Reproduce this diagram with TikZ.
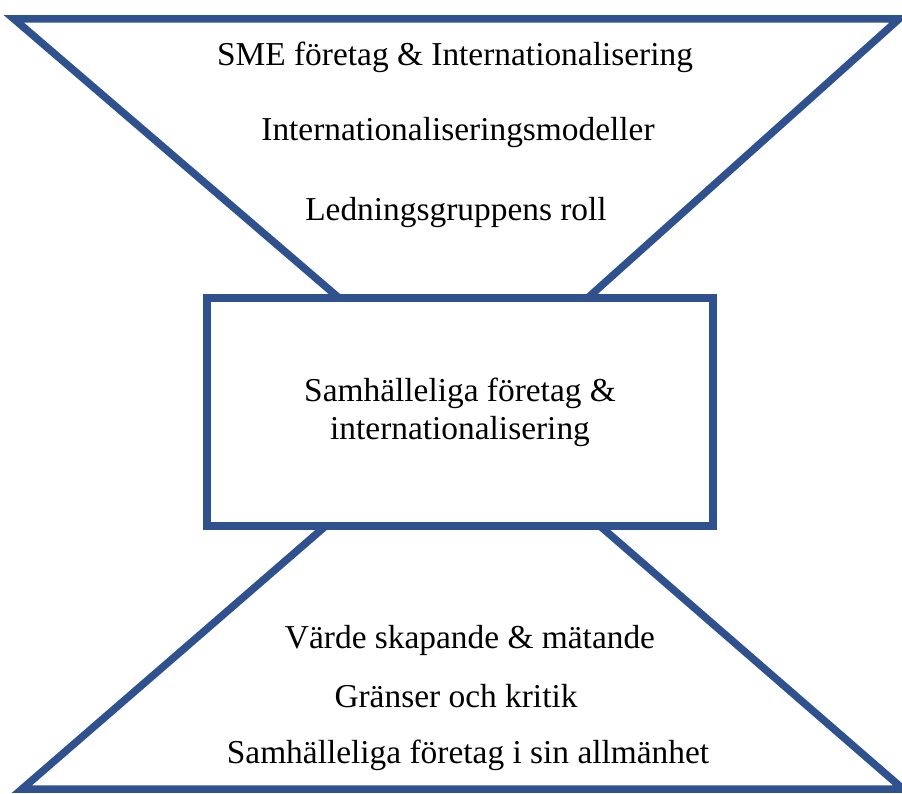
\documentclass[tikz,border=0pt]{standalone}
\usepackage{fontspec}
\setmainfont{Liberation Serif}
\definecolor{frameblue}{RGB}{47,82,143}
\tikzset{
	frame/.style={draw=frameblue, line width=7.5pt, line join=miter},
	topic/.style={anchor=base, font=\fontsize{33.4}{38}\selectfont},
}

\begin{document}
\begin{tikzpicture}[x=1pt, y=-1pt]
			\useasboundingbox (0, 0) rectangle (902, 794);
			\coordinate (tl) at (14, 19);
			\coordinate (tr) at (899, 19);
			\coordinate (ta) at (466, 407);
			\coordinate (bl) at (22, 789);
			\coordinate (br) at (903, 789);
			\coordinate (ba) at (463, 407);

			% upper and lower triangles, the box sits on top
			\draw[frame] (tl) -- (tr) -- (ta) -- cycle;
			\draw[frame] (bl) -- (br) -- (ba) -- cycle;
			\draw (460, 412) 	node[frame, fill=white, minimum width=506pt, minimum height=228pt, align=center, font=\fontsize{33.4}{38}\selectfont] 	(core) 	{Samhälleliga företag \&\\internationalisering};

			\draw (455, 66) 	node[topic] 	(sme) 		{SME företag \& Internationalisering};
			\draw (458, 141) 	node[topic] 	(models) 	{Internationaliseringsmodeller};
			\draw (456, 221) 	node[topic] 	(board) 	{Ledningsgruppens roll};
			\draw (470, 648) 	node[topic] 	(value) 	{Värde skapande \& mätande};
			\draw (456, 707) 	node[topic] 	(limits) 	{Gränser och kritik};
			\draw (468, 763) 	node[topic] 	(general) 	{Samhälleliga företag i sin allmänhet};
		\end{tikzpicture}
\end{document}
